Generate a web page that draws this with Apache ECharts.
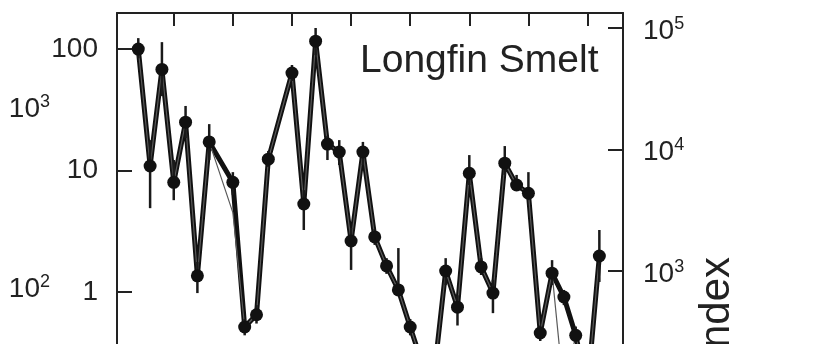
<!DOCTYPE html>
<html>
<head>
<meta charset="utf-8">
<script src="https://cdn.jsdelivr.net/npm/echarts@6/dist/echarts.min.js"></script>
<style>
  html, body { margin: 0; padding: 0; background: #fff; }
  #chart { width: 827px; height: 344px; }
</style>
</head>
<body>
<div id="chart"></div>
<script>
// survey years (1974 and 1979 have no data)
const years = [1967, 1968, 1969, 1970, 1971, 1972, 1973, 1975, 1976, 1977, 1978,
  1980, 1981, 1982, 1983, 1984, 1985, 1986, 1987, 1988, 1989, 1990,
  1991, 1992, 1993, 1994, 1995, 1996, 1997, 1998, 1999, 2000,
  2001, 2002, 2003, 2004, 2005, 2006];
// main index (thick line with dots)
const index = [100, 10.9, 68, 8.0, 25, 1.36, 17.2, 8.0, 0.515, 0.65, 12.4,
  63.5, 5.3, 116, 16.5, 14.2, 2.63, 14.2, 2.84, 1.64, 1.04, 0.515,
  0.26, 0.20, 1.49, 0.75, 9.5, 1.61, 0.98, 11.5, 7.6, 6.5,
  0.46, 1.43, 0.91, 0.44, 0.16, 1.98];
// second estimate (thin grey line)
const indexAlt = [100, 10.9, 68, 8.0, 25, 1.36, 17.2, 4.5, 0.515, 0.65, 12.4,
  63.5, 5.3, 116, 16.5, 14.2, 2.63, 14.2, 2.84, 1.64, 1.04, 0.515,
  0.26, 0.20, 1.49, 0.75, 9.5, 1.61, 0.98, 11.5, 7.6, 6.5,
  0.46, 1.43, 0.15, 0.44, 0.16, 1.98];
// error bar ends
const errLow = [84, 4.9, 41, 5.7, 18.5, 0.98, 12.2, 6.3, 0.44, 0.55, 10.7,
  54.6, 3.24, 89, 12.2, 11.1, 1.52, 11.1, 2.44, 1.41, 0.94, 0.44,
  0.2, 0.15, 1.14, 0.53, 7.6, 1.38, 0.67, 9.2, 6.8, 5.7,
  0.395, 1.14, 0.78, 0.38, 0.12, 1.21];
const errHigh = [123, 17.8, 114, 12.2, 34, 1.77, 24.1, 9.7, 0.60, 0.78, 14.5,
  73.9, 6.9, 149, 19.3, 17.8, 3.37, 17.2, 3.3, 1.9, 2.30, 0.60,
  0.33, 0.26, 1.9, 0.94, 13.4, 1.9, 1.26, 15.9, 9.2, 9.7,
  0.53, 1.83, 1.04, 0.52, 0.2, 3.24];

const xTicks = [1970, 1975, 1980, 1985, 1990, 1995, 2000, 2005];
const leftTicks = [1, 10, 100];
const rightTicks = [1e3, 1e4, 1e5];
const outerTicks = [1e2, 1e3];

const font = 'Liberation Sans';
const ink = '#222';

const supLabel = v => '{b|10}{s|' + Math.round(Math.log10(v)) + '}';
const supRich = {
  b: { fontSize: 28, fontFamily: font, color: ink, lineHeight: 32 },
  s: { fontSize: 18, fontFamily: font, color: ink, lineHeight: 10, verticalAlign: 'top' }
};

const chart = echarts.init(document.getElementById('chart'));

const mainPts = years.map((y, i) => [y, index[i]]);
const altPts = years.map((y, i) => [y, indexAlt[i]]);
const errPts = years.map((y, i) => [y, errLow[i], errHigh[i]]);

chart.setOption({
  animation: false,
  title: {
    text: 'Longfin Smelt',
    left: 360, top: 42, padding: 0,
    textStyle: { fontSize: 39, fontWeight: 'normal', fontFamily: font, color: ink }
  },
  grid: { left: 117, right: 204, top: 13, bottom: -69.5, outerBoundsMode: 'none' },
  xAxis: {
    type: 'value', position: 'top', min: 1965.2, max: 2008,
    axisLine: { lineStyle: { color: ink, width: 2 } },
    axisTick: { inside: true, length: 13, customValues: xTicks, lineStyle: { color: ink, width: 2 } },
    axisLabel: { show: false, customValues: xTicks },
    splitLine: { show: false }
  },
  yAxis: [
    {
      type: 'log', logBase: 10, min: 0.1, max: 198, position: 'left',
      axisLine: { show: true, lineStyle: { color: ink, width: 2 } },
      axisTick: { show: true, inside: true, length: 15, customValues: leftTicks, lineStyle: { color: ink, width: 2 } },
      axisLabel: {
        customValues: leftTicks, margin: 19, fontSize: 28, fontFamily: font, color: ink,
        padding: [3, 0, 0, 0],
        formatter: v => String(Math.round(v))
      },
      splitLine: { show: false }
    },
    {
      type: 'log', logBase: 10, min: 67.1, max: 132900, position: 'right',
      axisLine: { show: true, lineStyle: { color: ink, width: 2 } },
      axisTick: { show: true, inside: true, length: 15, customValues: rightTicks, lineStyle: { color: ink, width: 2 } },
      axisLabel: { customValues: rightTicks, margin: 20, padding: [6, 0, 0, 0], formatter: supLabel, rich: supRich },
      splitLine: { show: false }
    },
    {
      type: 'log', logBase: 10, min: 19.8, max: 3327, position: 'left', offset: 60,
      axisLine: { show: false },
      axisTick: { show: false },
      axisLabel: { customValues: outerTicks, margin: 7, padding: [4, 0, 0, 0], formatter: supLabel, rich: supRich },
      splitLine: { show: false }
    }
  ],
  graphic: [{
    type: 'text', x: 738, y: 257, rotation: Math.PI / 2,
    style: { text: 'Index', font: '42px "Liberation Sans"', fill: ink, textAlign: 'right', textVerticalAlign: 'bottom' }
  }],
  series: [
    {
      type: 'line', data: mainPts, showSymbol: false, z: 2,
      lineStyle: { color: '#111', width: 5 }
    },
    {
      type: 'line', data: altPts, showSymbol: false, z: 3,
      lineStyle: { color: '#5a5a5a', width: 1.2 }
    },
    {
      type: 'custom', data: errPts, z: 4,
      renderItem: (params, api) => {
        const lo = api.coord([api.value(0), api.value(1)]);
        const hi = api.coord([api.value(0), api.value(2)]);
        return {
          type: 'line',
          shape: { x1: lo[0], y1: lo[1], x2: hi[0], y2: hi[1] },
          style: { stroke: '#1a1a1a', lineWidth: 2.5 }
        };
      }
    },
    {
      type: 'scatter', data: mainPts, symbol: 'circle', symbolSize: 13, z: 5,
      itemStyle: { color: '#111', opacity: 1 }
    }
  ]
});
</script>
</body>
</html>
